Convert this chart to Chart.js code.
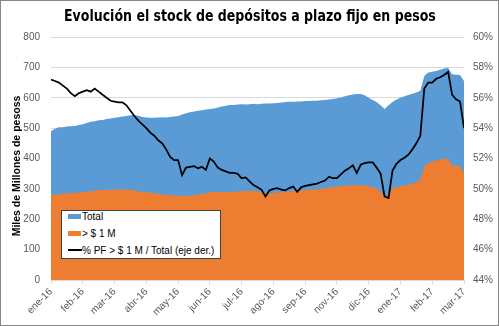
<!DOCTYPE html>
<html>
<head>
<meta charset="utf-8">
<script src="https://cdn.jsdelivr.net/npm/chart.js@4/dist/chart.umd.min.js"></script>
<style>
  html, body { margin: 0; padding: 0; background: #fff; }
  #wrap { position: relative; width: 499px; height: 326px; }
  #frame { position: absolute; left: 0; top: 0; width: 499px; height: 326px; box-sizing: border-box; border: 1px solid #868686; pointer-events: none; }
  #title { position: absolute; left: 0; top: 6px; width: 499px; text-align: center; line-height: 20px; }
  #title span { display: inline-block; font: bold 16px "DejaVu Sans Condensed", "Liberation Sans", sans-serif; color: #000; white-space: nowrap; transform-origin: 50% 50%; }
  #legend { position: absolute; left: 61px; top: 210px; width: 160px; height: 49px; box-sizing: border-box; border: 1px solid #404040; background: #fff; font: 10px "Liberation Sans", Arial, sans-serif; color: #000; }
  .item { position: absolute; left: 6px; height: 12px; line-height: 12px; white-space: nowrap; }
  .sw { display: inline-block; width: 13px; height: 5px; vertical-align: middle; margin-right: 1px; position: relative; top: -1px; }
</style>
</head>
<body>
<div id="wrap">
  <canvas id="chart" width="499" height="326"></canvas>
  <div id="title"><span id="titleText">Evolución el stock de depósitos a plazo fijo en pesos</span></div>
  <div id="legend">
    <div class="item" style="top:0px"><span class="sw" style="background:#5b9bd5"></span>Total</div>
    <div class="item" style="top:17px"><span class="sw" style="background:#ed7d31"></span>&gt; $ 1 M</div>
    <div class="item" style="top:34px"><span class="sw" style="background:#000;height:2px;width:14px;margin-right:0"></span>% PF &gt; $ 1 M / Total (eje der.)</div>
  </div>
  <div id="frame"></div>
</div>
<script>
// tick labels on the date axis (one every 8 points)
const monthLabels = ['ene-16', 'feb-16', 'mar-16', 'abr-16', 'may-16', 'jun-16', 'jul-16',
  'ago-16', 'sep-16', 'nov-16', 'dic-16', 'ene-17', 'feb-17', 'mar-17'];
const pointsPerLabel = 8;

// Total stock, miles de millones de pesos
const totalValues = [490, 498, 503, 503, 505, 506, 507, 510, 513, 517,
  521, 523, 526, 527, 530, 532, 534, 536, 538, 540,
  542, 543, 541, 537, 535, 534, 534, 535, 536, 535,
  537, 538, 540, 545, 549, 552, 555, 557, 559, 561,
  563, 565, 568, 571, 574, 576, 576, 578, 579, 578,
  579, 580, 579, 580, 581, 581, 582, 583, 584, 586,
  587, 587, 588, 588, 589, 589, 590, 590, 592, 593,
  594, 596, 598, 601, 605, 608, 611, 612, 612, 608,
  600, 593, 586, 575, 563, 575, 586, 594, 600, 605,
  609, 613, 617, 623, 672, 683, 686, 688, 692, 696,
  699, 677, 676, 675, 655];

// depositos > $ 1 M
const bigValues = [279, 281, 283, 284, 285, 286, 287, 288, 289, 290,
  292, 294, 296, 296, 296, 297, 297, 298, 298, 298,
  297, 295, 292, 290, 289, 287, 286, 284, 282, 280,
  279, 278, 277, 277, 276, 277, 279, 281, 283, 286,
  289, 290, 290, 290, 290, 290, 290, 291, 292, 293,
  294, 293, 291, 289, 286, 285, 286, 288, 290, 290,
  291, 292, 293, 295, 296, 297, 298, 299, 300, 302,
  304, 306, 308, 309, 310, 311, 312, 312, 312, 311,
  309, 306, 301, 290, 276, 280, 302, 305, 308, 311,
  314, 317, 322, 332, 372, 386, 390, 393, 396, 399,
  400, 376, 376, 375, 350];

// % PF > $ 1 M / Total (eje der.)
const ratioValues = [57.2, 57.1, 57.0, 56.8, 56.6, 56.3, 56.1, 56.3, 56.4, 56.5,
  56.4, 56.6, 56.4, 56.2, 56.0, 55.8, 55.75, 55.7, 55.7, 55.5,
  55.15, 54.8, 54.5, 54.25, 54.0, 53.7, 53.5, 53.2, 53.0, 52.6,
  52.1, 51.9, 51.9, 50.9, 51.4, 51.45, 51.5, 51.35, 51.45, 51.25,
  52.0, 51.8, 51.4, 51.25, 51.15, 51.05, 51.05, 51.0, 50.7, 50.75,
  50.5, 50.25, 50.1, 49.95, 49.5, 49.9, 50.0, 50.05, 49.95, 49.9,
  50.05, 50.15, 49.8, 50.1, 50.2, 50.25, 50.3, 50.35, 50.45, 50.55,
  50.8, 50.7, 50.7, 50.95, 51.2, 51.35, 51.55, 51.05, 51.6, 51.7,
  51.75, 51.75, 51.4, 51.0, 49.5, 49.4, 51.2, 51.65, 51.9, 52.05,
  52.25, 52.6, 53.0, 53.5, 56.6, 57.0, 57.0, 57.25, 57.35, 57.5,
  57.7, 56.2, 55.9, 55.75, 54.0];

const tickFont = { family: '"Liberation Sans", Arial, sans-serif', size: 10 };
const toPoints = arr => arr.map((v, i) => ({ x: i, y: v }));

// squeeze the title to the condensed width of the original
const titleText = document.getElementById('titleText');
titleText.style.transform = 'scaleX(' + (372 / titleText.offsetWidth) + ')';

// rotated axis title on the left
const axisTitle = {
  id: 'axisTitle',
  afterDraw(chart) {
    const ctx = chart.ctx;
    ctx.save();
    ctx.translate(17, 166);
    ctx.rotate(-Math.PI / 2);
    ctx.font = 'bold 10.5px "Liberation Sans", Arial, sans-serif';
    ctx.fillStyle = '#000';
    ctx.textAlign = 'center';
    ctx.textBaseline = 'middle';
    ctx.fillText('Miles de Millones de pesoss', 0, 0);
    ctx.restore();
  }
};

new Chart(document.getElementById('chart'), {
  type: 'line',
  data: {
    datasets: [{
      label: '% PF > $ 1 M / Total (eje der.)',
      data: toPoints(ratioValues),
      yAxisID: 'y1',
      borderColor: '#000',
      borderWidth: 1.75,
      pointRadius: 0,
      fill: false,
      order: 0
    }, {
      label: '> $ 1 M',
      data: toPoints(bigValues),
      yAxisID: 'y',
      backgroundColor: '#ed7d31',
      borderColor: '#ed7d31',
      borderWidth: 0,
      pointRadius: 0,
      fill: 'origin',
      order: 1
    }, {
      label: 'Total',
      data: toPoints(totalValues),
      yAxisID: 'y',
      backgroundColor: '#5b9bd5',
      borderColor: '#5b9bd5',
      borderWidth: 0,
      pointRadius: 0,
      fill: 'origin',
      order: 2
    }]
  },
  options: {
    responsive: false,
    animation: false,
    layout: { padding: { top: 37 } },
    plugins: {
      legend: { display: false },
      tooltip: { enabled: false }
    },
    scales: {
      x: {
        type: 'linear',
        min: 0,
        max: (monthLabels.length - 1) * pointsPerLabel,
        afterFit: s => { s.height = 46; },
        grid: { drawOnChartArea: false, color: '#d9d9d9', tickLength: 4 },
        border: { color: '#d9d9d9' },
        ticks: {
          stepSize: pointsPerLabel,
          autoSkip: false,
          maxRotation: 45,
          minRotation: 45,
          padding: 2,
          color: '#595959',
          font: tickFont,
          callback: v => monthLabels[v / pointsPerLabel]
        }
      },
      y: {
        position: 'left',
        min: 0,
        max: 800,
        afterFit: s => { s.width = 51; },
        grid: { color: '#d9d9d9', drawTicks: false },
        border: { display: false },
        ticks: { stepSize: 100, padding: 11, color: '#595959', font: tickFont }
      },
      y1: {
        position: 'right',
        min: 44,
        max: 60,
        afterFit: s => { s.width = 35; },
        grid: { drawOnChartArea: false, drawTicks: false },
        border: { display: false },
        ticks: { stepSize: 2, padding: 9, color: '#595959', font: tickFont, callback: v => v + '%' }
      }
    }
  },
  plugins: [axisTitle]
});
</script>
</body>
</html>
